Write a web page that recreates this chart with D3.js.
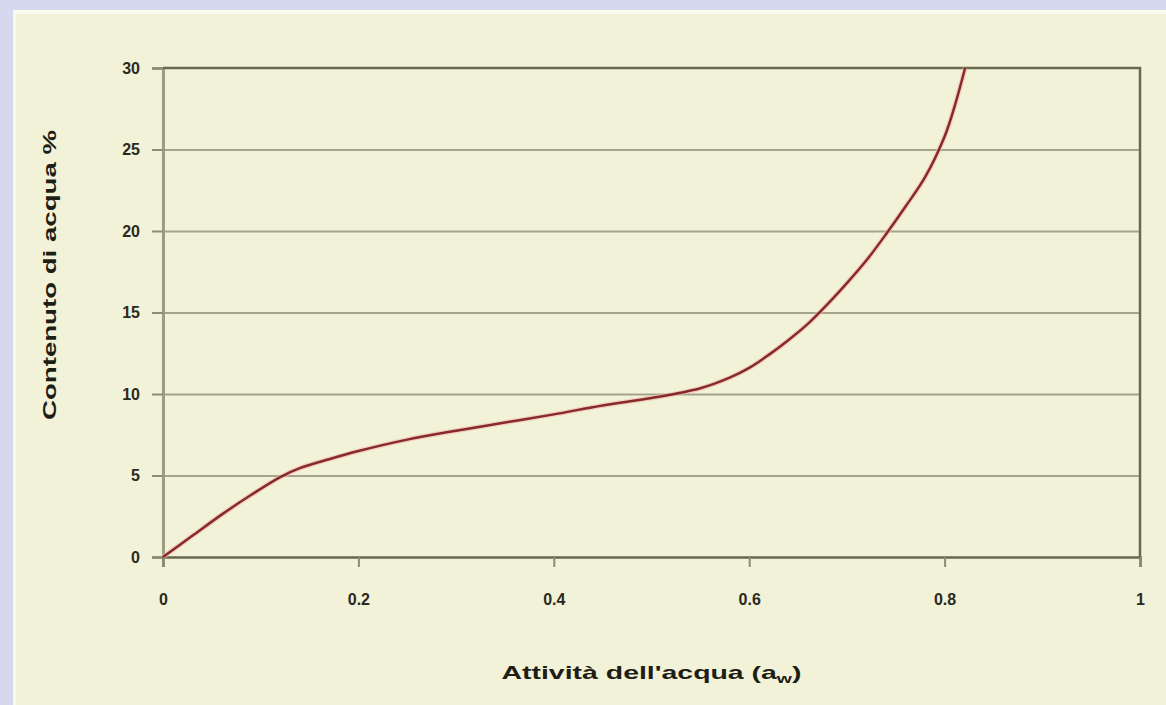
<!DOCTYPE html>
<html>
<head>
<script src="https://d3js.org/d3.v7.min.js"></script>
<style>
  body { margin: 0; background: #d6d8f0; }
  text { font-family: "Liberation Sans", Arial, sans-serif; font-weight: bold; }
</style>
</head>
<body>
<svg class="target"></svg>
<script>

// water activity (x) vs water content % (y)
const aw       = [0, 0.03, 0.06, 0.09, 0.12, 0.14, 0.17, 0.20, 0.25, 0.30, 0.35, 0.40, 0.45, 0.50, 0.55, 0.58, 0.60, 0.62, 0.64, 0.66, 0.68, 0.70, 0.72, 0.74, 0.76, 0.78, 0.80, 0.81, 0.821]
const moisture = [0, 1.3, 2.6, 3.8, 4.9, 5.45, 6.0, 6.5, 7.2, 7.75, 8.25, 8.75, 9.3, 9.75, 10.35, 11.0, 11.6, 12.4, 13.3, 14.3, 15.5, 16.8, 18.2, 19.8, 21.5, 23.3, 25.8, 27.6, 30]

const xTicks = [0, 0.2, 0.4, 0.6, 0.8, 1]
const yTicks = [0, 5, 10, 15, 20, 25, 30]
const xTitle = "Attività dell'acqua (a"
const xSub = "w"
const yTitle = "Contenuto di acqua %"

width = 1166
height = 705
margin = ({ top: 68, right: 26, bottom: 148, left: 163 })

const svg = d3.select('.target')
    .attr('width', width)
    .attr('height', height)
    .style('display', 'block')

// beige chart area inside the lavender frame
svg.append('rect')
    .attr('x', 13).attr('y', 10)
    .attr('width', width - 13).attr('height', height - 10)
    .attr('fill', '#fafaea')
svg.append('rect')
    .attr('x', 16).attr('y', 14)
    .attr('width', width - 16).attr('height', height - 14)
    .attr('fill', '#f2f2d8')

xScale = d3.scaleLinear([0, 1], [margin.left, width - margin.right])
yScale = d3.scaleLinear([0, 30], [height - margin.bottom, margin.top])

// horizontal grid
svg.append('g')
    .attr('transform', `translate(${margin.left},0)`)
    .call(d3.axisLeft(yScale).tickValues(yTicks.slice(1, -1)).tickSize(-(width - margin.right - margin.left)).tickFormat(''))
    .call(g => g.select('.domain').remove())
    .call(g => g.selectAll('line').attr('stroke', '#a4a48c').attr('stroke-width', 2))

// y axis
svg.append('g')
    .attr('transform', `translate(${margin.left},0)`)
    .call(d3.axisLeft(yScale).tickValues(yTicks).tickSize(11).tickPadding(12).tickFormat(d3.format('d')))
    .call(g => g.select('.domain').attr('stroke', '#9c9c84').attr('stroke-width', 3))
    .call(g => g.selectAll('line').attr('stroke', '#8c8c74').attr('stroke-width', 2))
    .call(g => g.selectAll('text').attr('font-size', 16).attr('fill', '#2a2a1e'))

// frame top / right
svg.append('path')
    .attr('d', `M${margin.left},${margin.top}H${width - margin.right}V${height - margin.bottom}`)
    .attr('fill', 'none')
    .attr('stroke', '#68684f')
    .attr('stroke-width', 2.5)

// x axis
svg.append('g')
    .attr('transform', `translate(0,${height - margin.bottom})`)
    .call(d3.axisBottom(xScale).tickValues(xTicks).tickSize(10).tickPadding(27).tickFormat(d => d === 0 || d === 1 ? d3.format('d')(d) : d3.format('.1f')(d)))
    .call(g => g.select('.domain').attr('stroke', '#68684f').attr('stroke-width', 2.5))
    .call(g => g.selectAll('line').attr('stroke', '#8c8c74').attr('stroke-width', 2))
    .call(g => g.selectAll('text').attr('font-size', 16).attr('fill', '#2a2a1e'))

// isotherm curve
const pts = aw.map((a, i) => [a, moisture[i]])
const line = d3.line()
    .x(d => xScale(d[0]))
    .y(d => yScale(d[1]))
    .curve(d3.curveCatmullRom.alpha(0.5))

svg.append('path')
    .datum(pts)
    .attr('fill', 'none')
    .attr('stroke', '#f4b8b0')
    .attr('stroke-width', 5)
    .attr('opacity', 0.6)
    .attr('d', line)
svg.append('path')
    .datum(pts)
    .attr('fill', 'none')
    .attr('stroke', '#862a2a')
    .attr('stroke-width', 2.5)
    .attr('d', line)

// axis titles
const xt = svg.append('text')
    .attr('x', (margin.left + width - margin.right) / 2)
    .attr('y', 679)
    .attr('text-anchor', 'middle')
    .attr('font-size', 19)
    .attr('fill', '#1e1e14')
    .attr('textLength', 300)
    .attr('lengthAdjust', 'spacingAndGlyphs')
xt.append('tspan').text(xTitle)
xt.append('tspan').attr('font-size', 13).attr('dy', 4).text(xSub)
xt.append('tspan').attr('dy', -4).text(')')

svg.append('text')
    .attr('transform', `translate(56,${275}) rotate(-90)`)
    .attr('text-anchor', 'middle')
    .attr('font-size', 18)
    .attr('fill', '#1e1e14')
    .attr('textLength', 290)
    .attr('lengthAdjust', 'spacingAndGlyphs')
    .text(yTitle)

</script>
</body>
</html>
